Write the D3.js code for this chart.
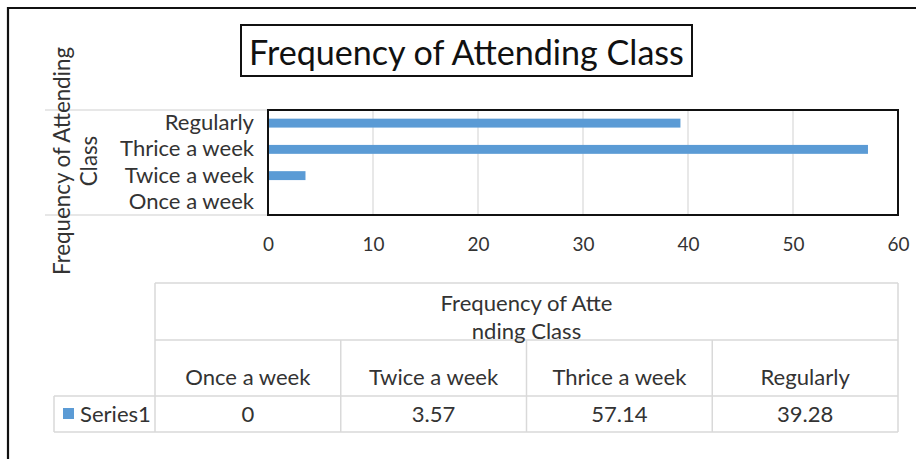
<!DOCTYPE html>
<html><head><meta charset="utf-8">
<script src="https://cdn.jsdelivr.net/npm/d3@7"></script>
<style>body{margin:0;background:#fff}svg{display:block}</style>
</head><body>
<script>
const chartTitle = "Frequency of Attending Class";
const axisTitleLines = ["Frequency of Attending", "Class"];
const categories = ["Once a week", "Twice a week", "Thrice a week", "Regularly"];
const series1 = [0, 3.57, 57.14, 39.28];
const seriesName = "Series1";
const xTicks = [0, 10, 20, 30, 40, 50, 60];
const tableHeaderLines = ["Frequency of Atte", "nding Class"];
const valueLabels = ["0", "3.57", "57.14", "39.28"];

const W = 916, H = 459;
const FONT = "Lato, 'Open Sans', sans-serif";
const TXT = "#333";
const BLUE = "#5b9bd5";
const GRID = "#d9d9d9";

const svg = d3.select("body").append("svg").attr("width", W).attr("height", H);
svg.append("rect").attr("width", W).attr("height", H).attr("fill", "#fff");

function fit(str, targetW) {
  const t = svg.append("text").attr("font-family", FONT).attr("font-size", 100).text(str);
  const w = t.node().getComputedTextLength();
  t.remove();
  return 100 * targetW / w;
}
const fsTitle = fit(chartTitle, 435);
const fsLabel = fit("Thrice a week", 134);
const fsTick = fit("10", 22);
const fsAxisTitle = fit(axisTitleLines[0], 228);

// outer frame
svg.append("path").attr("d", `M8,${H + 5} L8,8 L${W + 5},8`)
  .attr("fill", "none").attr("stroke", "#111").attr("stroke-width", 2.2);

// title box
svg.append("rect").attr("x", 241).attr("y", 25).attr("width", 451).attr("height", 51)
  .attr("fill", "#fff").attr("stroke", "#111").attr("stroke-width", 2);
svg.append("text").attr("x", 466.5).attr("y", 51).attr("text-anchor", "middle")
  .attr("dominant-baseline", "central").attr("font-family", FONT)
  .attr("font-size", fsTitle).attr("fill", "#111").text(chartTitle);

// plot
const x = d3.scaleLinear().domain([0, 60]).range([268, 898]);
const y = d3.scaleBand().domain(categories.slice().reverse()).range([110, 215]);

// gray lines extending left
[110, 215].forEach(v => svg.append("line").attr("x1", 45).attr("x2", 268)
  .attr("y1", v).attr("y2", v).attr("stroke", "#d0d0d0").attr("stroke-width", 1.2));

svg.append("g").selectAll("line").data(xTicks.slice(1, -1)).join("line")
  .attr("x1", d => x(d)).attr("x2", d => x(d)).attr("y1", 110).attr("y2", 215)
  .attr("stroke", GRID).attr("stroke-width", 1.2);

const barH = y.bandwidth() * 0.34;
svg.append("g").selectAll("rect").data(categories.map((c, i) => ({ c, v: series1[i] })))
  .join("rect")
  .attr("x", x(0)).attr("y", d => y(d.c) + (y.bandwidth() - barH) / 2)
  .attr("width", d => x(d.v) - x(0)).attr("height", barH).attr("fill", BLUE);

svg.append("rect").attr("x", 268).attr("y", 110).attr("width", 630).attr("height", 105)
  .attr("fill", "none").attr("stroke", "#111").attr("stroke-width", 2);

// x axis labels
const xa = svg.append("g").attr("transform", "translate(0,238)")
  .call(d3.axisBottom(x).tickValues(xTicks).tickSize(0).tickPadding(0));
xa.select(".domain").remove();
xa.selectAll("text").attr("font-family", FONT).attr("font-size", fsTick).attr("fill", TXT);

// y axis labels
const ya = svg.append("g").attr("transform", "translate(268,0)")
  .call(d3.axisLeft(y).tickSize(0).tickPadding(14));
ya.select(".domain").remove();
ya.selectAll("text").attr("font-family", FONT).attr("font-size", fsLabel).attr("fill", TXT);

// axis title
const at = svg.append("text").attr("transform", "translate(62,161) rotate(-90)")
  .attr("text-anchor", "middle").attr("font-family", FONT).attr("font-size", fsAxisTitle).attr("fill", TXT);
at.append("tspan").attr("x", 0).attr("y", 0).attr("dy", "0.35em").text(axisTitleLines[0]);
at.append("tspan").attr("x", 0).attr("y", 27).attr("dy", "0.35em").text(axisTitleLines[1]);

// data table
const colX = d3.scaleBand().domain(categories).range([155, 898]);
const tg = svg.append("g");
const line = (x1, y1, x2, y2) => tg.append("line").attr("x1", x1).attr("y1", y1)
  .attr("x2", x2).attr("y2", y2).attr("stroke", GRID).attr("stroke-width", 1.5);
line(155, 283, 898, 283);
line(155, 340, 898, 340);
line(54, 396, 898, 396);
line(54, 432, 898, 432);
line(54, 396, 54, 432);
line(155, 283, 155, 432);
line(898, 283, 898, 432);
categories.slice(1).forEach(c => line(colX(c), 340, colX(c), 432));

const hdr = tg.append("text").attr("text-anchor", "middle").attr("font-family", FONT)
  .attr("font-size", fsLabel).attr("fill", TXT);
hdr.append("tspan").attr("x", 526.5).attr("y", 303).attr("dy", "0.35em").text(tableHeaderLines[0]);
hdr.append("tspan").attr("x", 526.5).attr("y", 331).attr("dy", "0.35em").text(tableHeaderLines[1]);

tg.selectAll("text.col").data(categories).join("text").attr("class", "col")
  .attr("x", d => colX(d) + colX.bandwidth() / 2).attr("y", 377).attr("dy", "0.35em")
  .attr("text-anchor", "middle").attr("font-family", FONT).attr("font-size", fsLabel)
  .attr("fill", TXT).text(d => d);

tg.selectAll("text.val").data(categories).join("text").attr("class", "val")
  .attr("x", d => colX(d) + colX.bandwidth() / 2).attr("y", 414).attr("dy", "0.35em")
  .attr("text-anchor", "middle").attr("font-family", FONT).attr("font-size", fsLabel)
  .attr("fill", TXT).text((d, i) => valueLabels[i]);

tg.append("rect").attr("x", 63).attr("y", 408).attr("width", 11).attr("height", 11).attr("fill", BLUE);
tg.append("text").attr("x", 80).attr("y", 414).attr("dy", "0.35em").attr("font-family", FONT)
  .attr("font-size", fsLabel).attr("fill", TXT).text(seriesName);
</script>
</body></html>
